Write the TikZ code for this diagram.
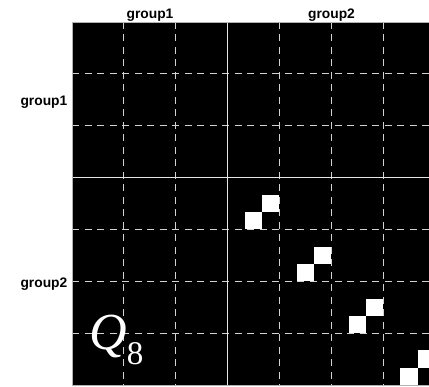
\documentclass[tikz,border=0pt]{standalone}
\usepackage{fontspec}
\setmainfont{Liberation Sans}
\newfontfamily\tnr{Liberation Serif}
\begin{document}
\begin{tikzpicture}[x=1pt,y=-1pt,
  gridline/.style={draw=gray!35!white,line width=0.9pt,dash pattern=on 7pt off 5.5pt},
  sepline/.style={draw=white!90!black,line width=1.6pt},
  lab/.style={font=\fontsize{13.8}{16}\selectfont\bfseries,inner sep=0pt},
  pix/.style={fill=white,draw=none}]
\useasboundingbox (0,0) rectangle (429,387);
\clip (0,0) rectangle (429,387);
\pgfmathsetmacro{\c}{363/7}
\pgfmathsetmacro{\s}{363/21}
\fill[black] (72,22) rectangle (435,385);
% dashed grid
\foreach \i in {1,2,4,5,6}{
  \draw[gridline] ({72+\i*\c},22) -- ({72+\i*\c},385);
  \draw[gridline] (72,{22+\i*\c}) -- (435,{22+\i*\c});
}
% separators
\draw[sepline] ({72+3*\c},22) -- ({72+3*\c},385);
\draw[sepline] (72,{22+3*\c}) -- (435,{22+3*\c});
% white pixels
\foreach \k in {3,4,5,6}{
  \fill[pix] ({72+\k*\c+\s},{22+\k*\c+2*\s}) rectangle ({72+\k*\c+2*\s},{22+\k*\c+3*\s});
  \fill[pix] ({72+\k*\c+2*\s},{22+\k*\c+\s}) rectangle ({72+\k*\c+3*\s},{22+\k*\c+2*\s});
}
\draw[gray!60,line width=0.6pt] (72,22) rectangle (435,385);
% labels
\node[lab,anchor=base] (t1) at (150,19) {group1};
\node[lab,anchor=base] (t2) at (331.5,19) {group2};
\node[lab,anchor=base east] (l1) at (67.5,106) {group1};
\node[lab,anchor=base east] (l2) at (67.5,288) {group2};
\node[anchor=base west,inner sep=0pt,text=white,font=\tnr\fontsize{52}{60}\selectfont] (q) at (89,350)
  {\itshape Q\upshape\raisebox{-15pt}{\fontsize{33}{36}\selectfont 8}};
\end{tikzpicture}
\end{document}
